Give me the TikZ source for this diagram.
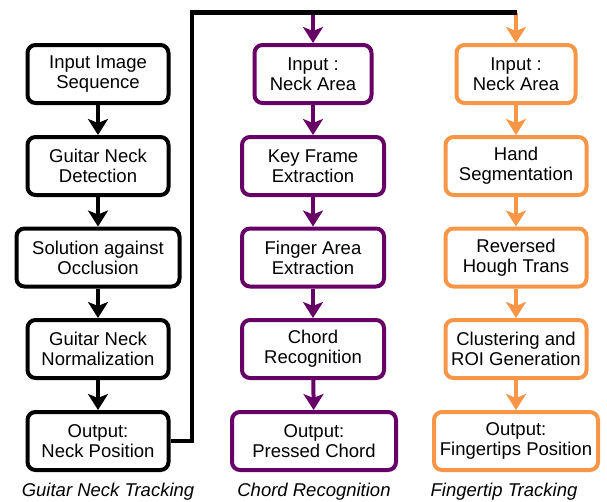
\documentclass[tikz,border=0pt]{standalone}
\usepackage{fontspec}
\setmainfont{Liberation Sans}
\usepackage{tikz}
\usetikzlibrary{arrows.meta}
\definecolor{chordpurple}{HTML}{660066}
\definecolor{tiporange}{HTML}{F79646}
\tikzstyle{step box}=[draw, line width=4pt, rounded corners=8pt, align=center, inner sep=0pt, minimum height=58pt, font=\fontsize{18.5}{20}\selectfont]
\tikzstyle{neckbox}=[step box, draw=black]
\tikzstyle{chordbox}=[step box, draw=chordpurple]
\tikzstyle{tipbox}=[step box, draw=tiporange]
\tikzstyle{flow}=[line width=4pt, -{Stealth[length=16pt,width=20pt,inset=4pt]}]
\tikzstyle{caption}=[font=\fontsize{18.5}{20}\selectfont\itshape]
\newcommand{\neckbox}{\node[neckbox]}
\newcommand{\chordbox}{\node[chordbox]}
\newcommand{\tipbox}{\node[tipbox]}
\begin{document}
\begin{tikzpicture}[x=1pt,y=-1pt]
            \useasboundingbox (0,0) rectangle (607,501);
            % guitar neck tracking
            \neckbox[minimum width=141pt] (g1) at (98,74) {Input Image\\Sequence};
            \neckbox[minimum width=141pt] (g2) at (98,166) {Guitar Neck\\Detection};
            \neckbox[minimum width=163pt] (g3) at (98,257.5) {Solution against\\Occlusion};
            \neckbox[minimum width=141pt] (g4) at (98,349) {Guitar Neck\\Normalization};
            \neckbox[minimum width=141pt] (g5) at (98,441) {Output:\\Neck Position};
            % chord recognition
            \chordbox[minimum width=117pt] (c1) at (313,74) {Input :\\Neck Area};
            \chordbox[minimum width=142pt] (c2) at (313,166) {Key Frame\\Extraction};
            \chordbox[minimum width=142pt] (c3) at (313,257.5) {Finger Area\\Extraction};
            \chordbox[minimum width=142pt] (c4) at (313,349) {Chord\\Recognition};
            \chordbox[minimum width=164pt] (c5) at (314,441) {Output:\\Pressed Chord};
            % fingertip tracking
            \tipbox[minimum width=119pt] (f1) at (516,74) {Input :\\Neck Area};
            \tipbox[minimum width=141pt] (f2) at (516,166) {Hand\\Segmentation};
            \tipbox[minimum width=141pt] (f3) at (516,257.5) {Reversed\\Hough Trans};
            \tipbox[minimum width=141pt] (f4) at (516,349) {Clustering and\\ROI Generation};
            \tipbox[minimum width=164pt] (f5) at (516,441) {Output:\\Fingertips Position};
            \node[caption] (gcap) at (108,492) {Guitar Neck Tracking};
            \node[caption] (ccap) at (314,492) {Chord Recognition};
            \node[caption] (fcap) at (504,492) {Fingertip Tracking};
            \coordinate (turn) at (192,12.5);
            \coordinate (topend) at (517,12.5);
            \coordinate (cin) at (313,12.5);
            \coordinate (fin) at (516,12.5);
            \path[flow, color=black]
                (g1) edge (g2)
                (g2) edge (g3)
                (g3) edge (g4)
                (g4) edge (g5)
            ;
            \draw[flow, chordpurple] (cin) -- (c1.north);
            \path[flow, color=chordpurple]
                (c1) edge (c2)
                (c2) edge (c3)
                (c3) edge (c4)
                (c4) edge (c5)
            ;
            \draw[flow, tiporange] (fin) -- (f1.north);
            \path[flow, color=tiporange]
                (f1) edge (f2)
                (f2) edge (f3)
                (f3) edge (f4)
                (f4) edge (f5)
            ;
            \draw[line width=4.5pt, line join=miter] (g5.east) -| (turn) -- (topend);
        \end{tikzpicture}
\end{document}
